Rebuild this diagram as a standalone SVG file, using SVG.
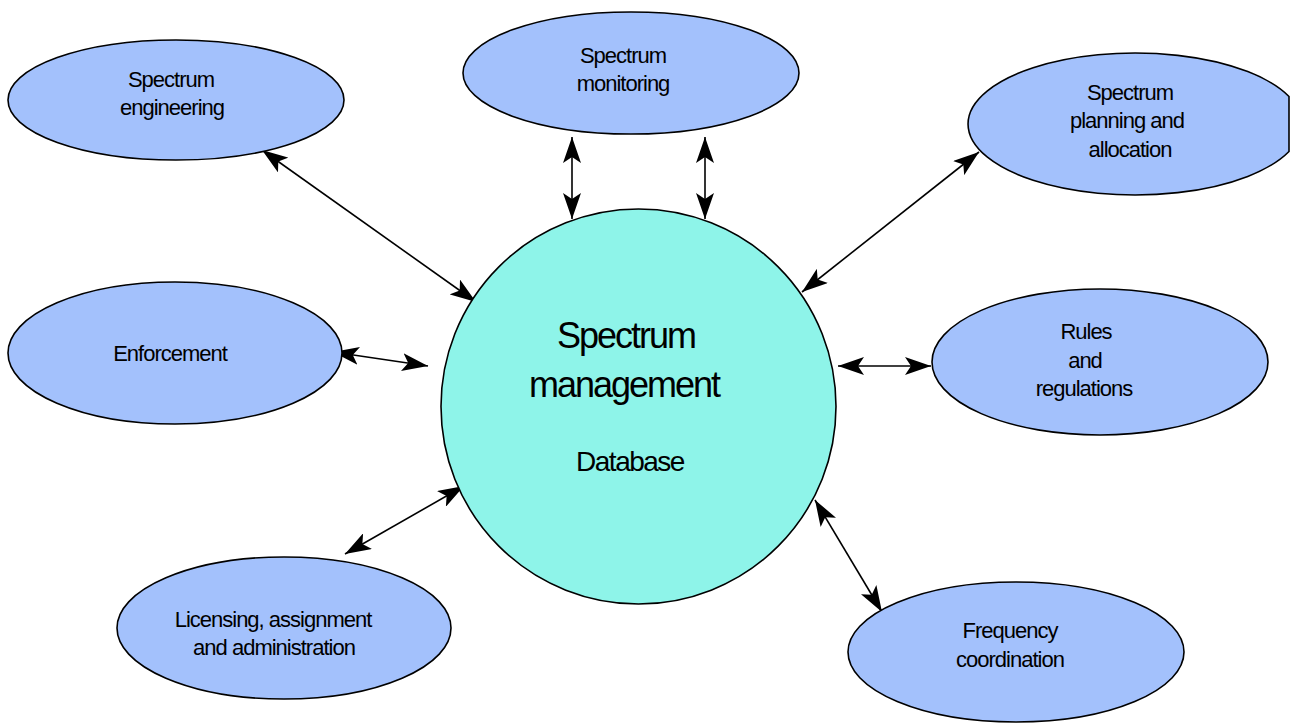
<svg xmlns="http://www.w3.org/2000/svg" width="1297" height="724" viewBox="0 0 1297 724">
<defs>
<marker id="ah" viewBox="0 0 26 18" refX="26" refY="9" markerWidth="26" markerHeight="18" markerUnits="userSpaceOnUse" orient="auto-start-reverse">
<path d="M0,0 L26,9 L0,18 L6,9 Z" fill="#000"/>
</marker>
<style>
.n{fill:#A3C1FC;stroke:#000;stroke-width:1.6}
.c{fill:#8EF4E9;stroke:#000;stroke-width:1.6}
.t{font-family:"Liberation Sans",Arial,sans-serif;font-size:22px;fill:#000;text-anchor:middle;letter-spacing:-1px}
.big{font-family:"Liberation Sans",Arial,sans-serif;font-size:36px;fill:#000;text-anchor:middle;letter-spacing:-2px}
.db{font-family:"Liberation Sans",Arial,sans-serif;font-size:28px;fill:#000;text-anchor:middle;letter-spacing:-1.5px}
.a{stroke:#000;stroke-width:1.6;fill:none;marker-start:url(#ah);marker-end:url(#ah)}
</style>
</defs>
<rect width="1297" height="724" fill="#fff"/>
<g id="connectors">
<line class="a" x1="262" y1="150" x2="476" y2="302"/>
<line class="a" x1="572" y1="137" x2="572" y2="219"/>
<line class="a" x1="705" y1="137" x2="705" y2="219"/>
<line class="a" x1="979" y1="152" x2="802" y2="292"/>
<line class="a" x1="333" y1="352" x2="428" y2="366"/>
<line class="a" x1="838" y1="366" x2="931" y2="366"/>
<line class="a" x1="345" y1="554" x2="464" y2="486"/>
<line class="a" x1="815" y1="500" x2="882" y2="612"/>
</g>
<g id="center">
<circle class="c" cx="638.5" cy="406.5" r="197.5"/>
<text class="big" x="626" y="348">Spectrum</text>
<text class="big" x="624" y="397">management</text>
<text class="db" x="630" y="471">Database</text>
</g>
<g id="engineering">
<ellipse class="n" cx="176" cy="100" rx="168" ry="60"/>
<text class="t" x="171" y="87">Spectrum</text>
<text class="t" x="172" y="115">engineering</text>
</g>
<g id="monitoring">
<ellipse class="n" cx="631" cy="73" rx="168" ry="61"/>
<text class="t" x="623" y="63">Spectrum</text>
<text class="t" x="623" y="91">monitoring</text>
</g>
<g id="planning">
<path class="n" d="M1289,96.5 A167,71 0 1,0 1289,151.5 Z"/>
<text class="t" x="1130" y="100">Spectrum</text>
<text class="t" x="1127" y="128">planning and</text>
<text class="t" x="1130" y="157">allocation</text>
</g>
<g id="enforcement">
<ellipse class="n" cx="175" cy="353" rx="167" ry="71"/>
<text class="t" x="170" y="361">Enforcement</text>
</g>
<g id="rules">
<ellipse class="n" cx="1100" cy="362" rx="168" ry="73"/>
<text class="t" x="1086" y="339">Rules</text>
<text class="t" x="1085" y="368">and</text>
<text class="t" x="1084" y="396">regulations</text>
</g>
<g id="licensing">
<ellipse class="n" cx="284" cy="628" rx="167" ry="71"/>
<text class="t" x="273" y="627">Licensing, assignment</text>
<text class="t" x="274" y="655">and administration</text>
</g>
<g id="frequency">
<ellipse class="n" cx="1016" cy="652" rx="168" ry="70"/>
<text class="t" x="1010" y="638">Frequency</text>
<text class="t" x="1010" y="667">coordination</text>
</g>
</svg>
